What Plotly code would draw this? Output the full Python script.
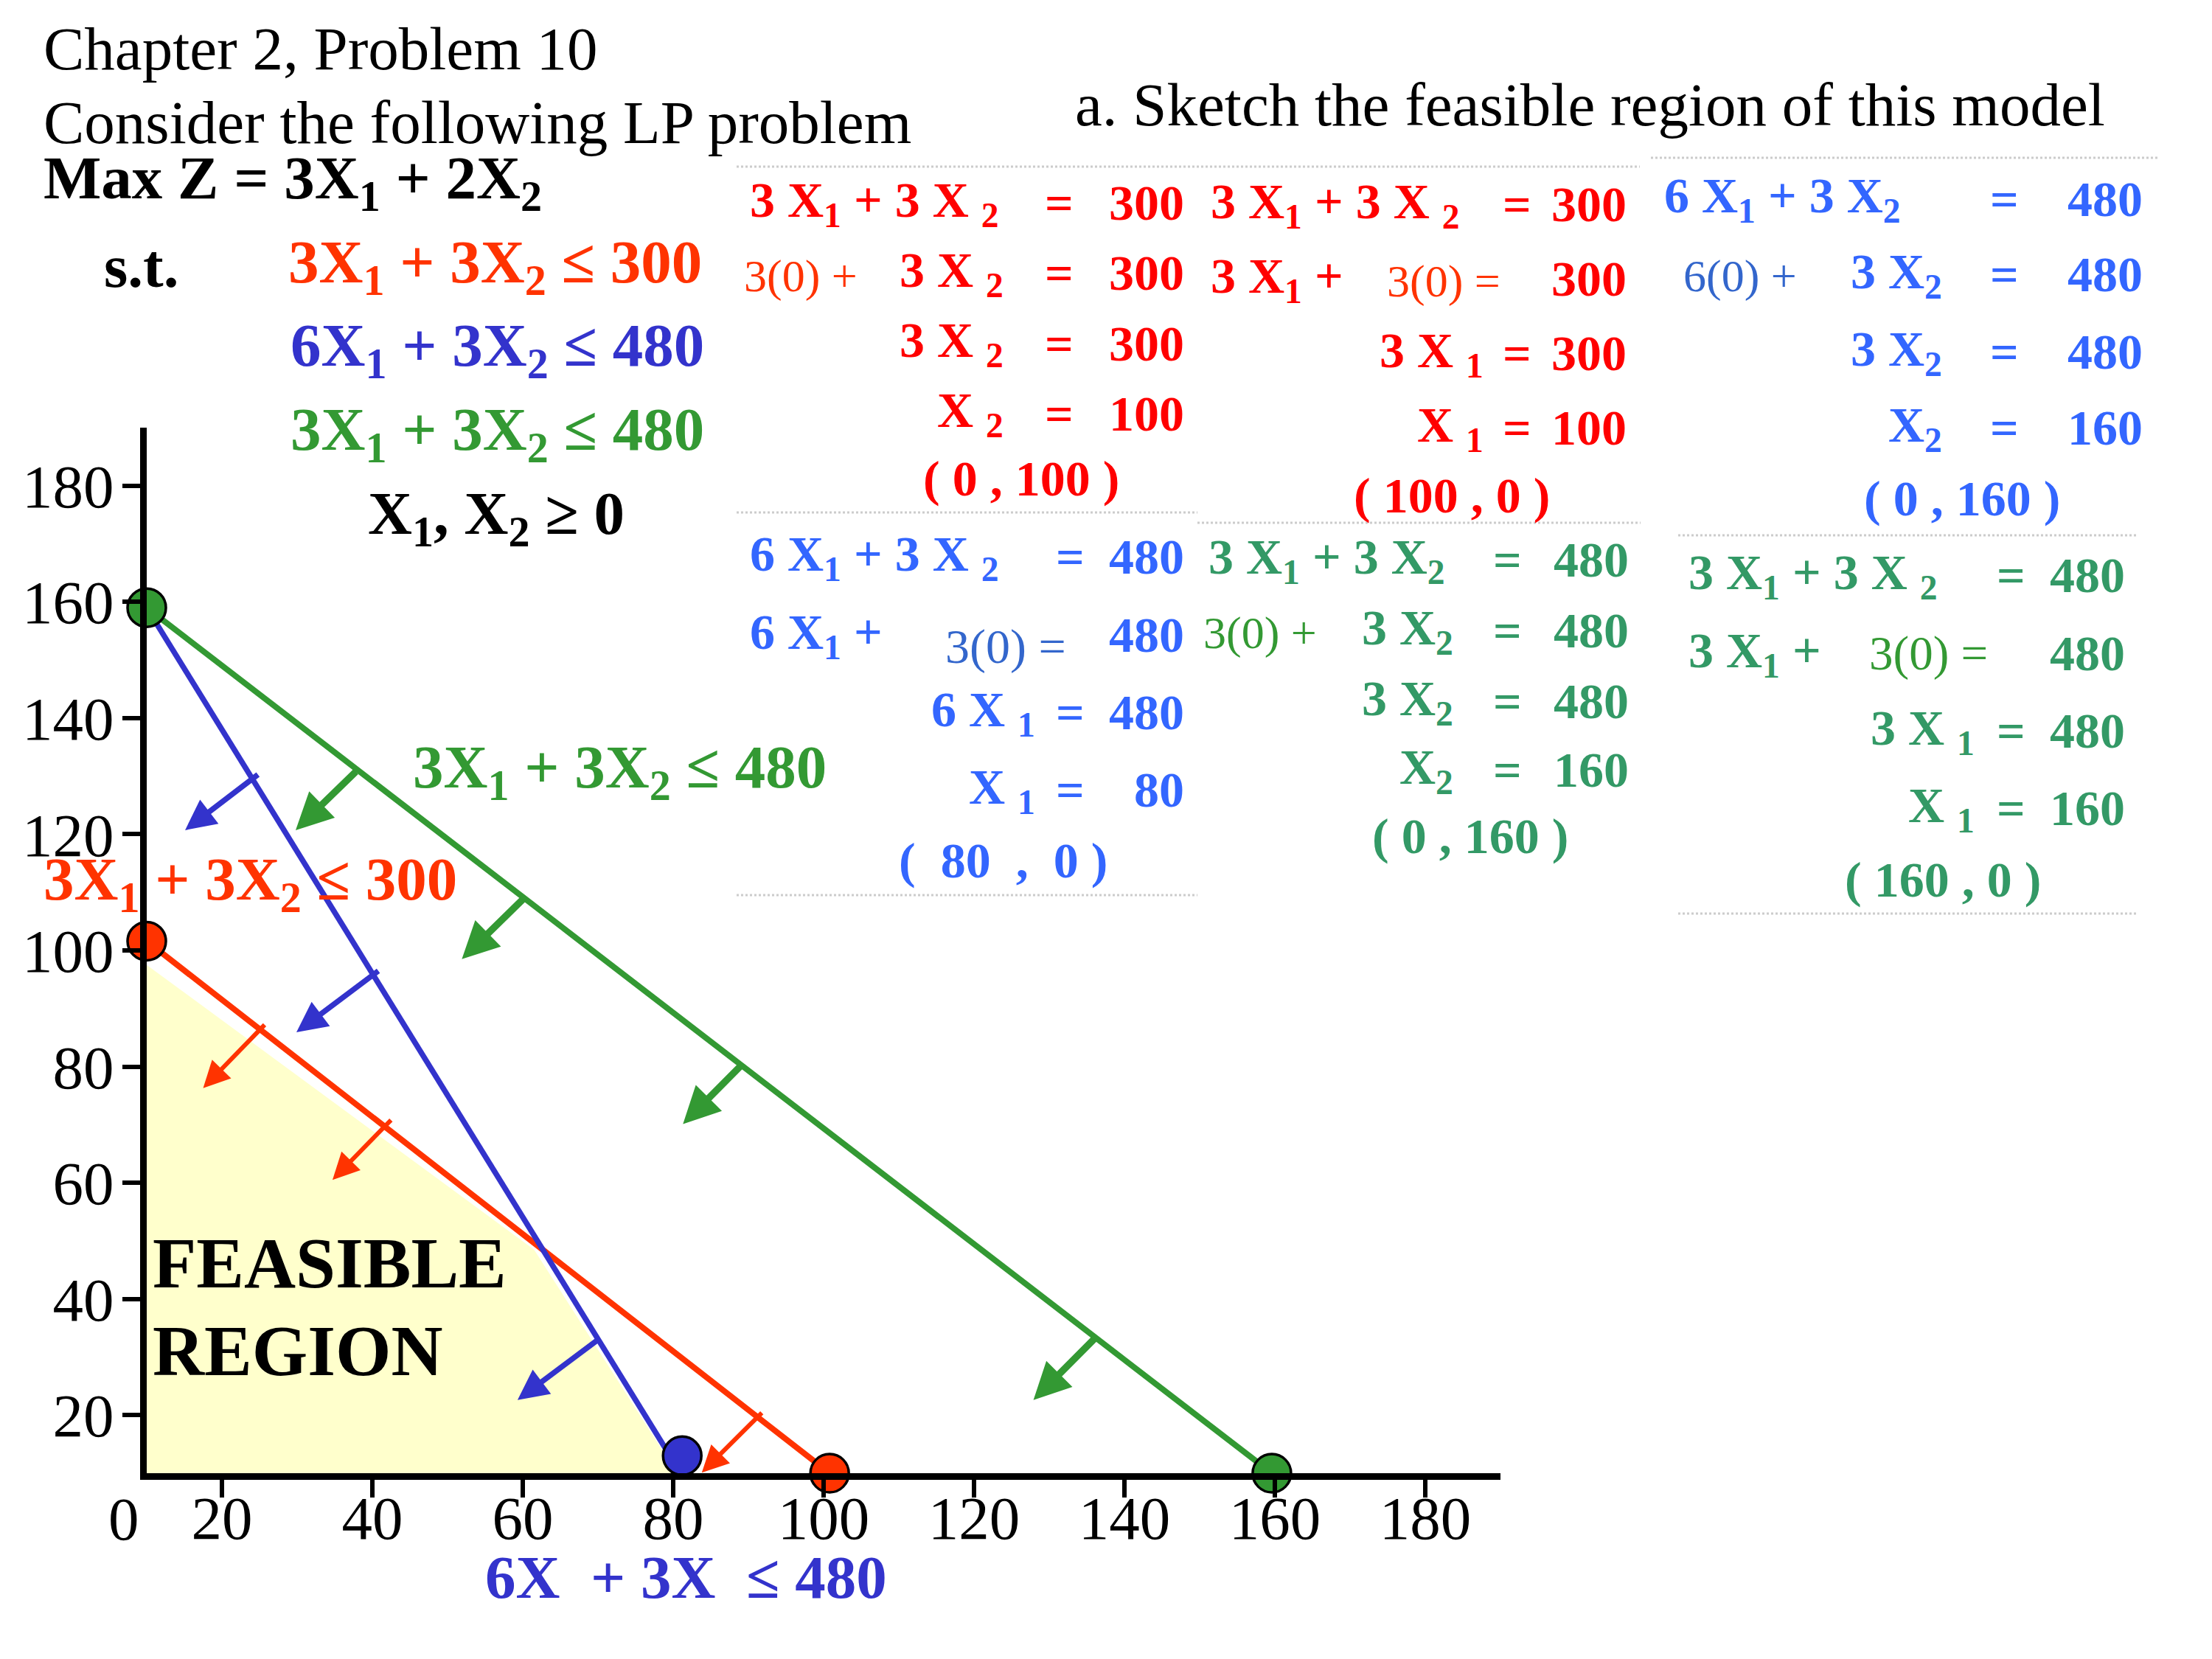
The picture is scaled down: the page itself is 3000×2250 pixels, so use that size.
import plotly.graph_objects as go

# ---------------- data ----------------
x_ticks = [20, 40, 60, 80, 100, 120, 140, 160, 180]
y_ticks = [20, 40, 60, 80, 100, 120, 140, 160, 180]

# constraint lines as drawn (axes cross at about 10, 10 in the picture)
green_x = [10, 159.6]
green_y = [159, 10]
blue_x = [10, 81]
blue_y = [159, 10]
red_x = [10, 100.8]
red_y = [101.6, 10]

# corner-point markers
green_pts_x = [10, 159.6]
green_pts_y = [159, 10]
red_pts_x = [10, 100.8]
red_pts_y = [101.6, 10]
blue_pts_x = [81.2]
blue_pts_y = [13]

# shaded feasible region outline
feasible_x = [10, 10, 61.5, 80.5, 10]
feasible_y = [10, 97.5, 48.5, 10, 10]

# direction arrows: (base on line x, base y, tip x, tip y)
green_arrows = [(37.1, 129.9, 29.8, 120.7), (59.3, 107.9, 51.9, 98.5),
                (88.5, 79.5, 81.3, 70.1), (135.6, 32.6, 127.9, 22.6)]
blue_arrows = [(24.0, 129.5, 15.1, 120.7), (40.0, 95.7, 29.9, 85.9),
               (69.4, 32.4, 59.3, 22.6)]
red_arrows = [(25.0, 86.3, 17.5, 76.3), (41.8, 69.9, 34.7, 60.5),
              (91.1, 19.5, 83.8, 10.1)]

# ---------------- styles ----------------
SERIF = "Liberation Serif"
RED = "#FF3300"
BLUE = "#3333CC"
GREEN = "#339933"
FILL = "#FFFFCC"
EQ_RED = "#FF0000"
EQ_ORANGE = "#FF3300"
EQ_BLUE = "#3366FF"
EQ_BLUE_DARK = "#3366CC"
EQ_TEAL = "#339966"
EQ_GREEN = "#339933"

W_PX, H_PX = 3000, 2250
OFF = 8  # page offset of the figure inside the browser page
L, T, R_END, B_END = 199, 580, 2035, 1998   # plot area on the page
PW, PH = R_END - L, B_END - T
XR = [10, 190]
YR = [10, 190]
SX = PW / (XR[1] - XR[0])
SY = PH / (YR[1] - YR[0])


def px(x):
    return (x - L) / PW


def py(y):
    return (B_END - y) / PH


annotations = []


def txt(s, x, y, size, color="black", bold=False, anchor="left"):
    if bold:
        s = "<b>" + s + "</b>"
    annotations.append(dict(text=s, x=px(x), y=py(y), xref="paper", yref="paper",
                            xanchor=anchor, yanchor="middle", showarrow=False,
                            font=dict(family=SERIF, size=size, color=color)))


# ---------------- figure ----------------
fig = go.Figure()

fig.add_trace(go.Scatter(x=feasible_x, y=feasible_y, mode="lines", fill="toself",
                         fillcolor=FILL, line=dict(width=0, color=FILL),
                         hoverinfo="skip"))
fig.add_trace(go.Scatter(x=green_x, y=green_y, mode="lines",
                         line=dict(color=GREEN, width=8)))
fig.add_trace(go.Scatter(x=red_x, y=red_y, mode="lines",
                         line=dict(color=RED, width=8)))
fig.add_trace(go.Scatter(x=blue_x, y=blue_y, mode="lines",
                         line=dict(color=BLUE, width=7.5)))

for xs, ys, c in [(green_pts_x, green_pts_y, GREEN), (red_pts_x, red_pts_y, RED),
                  (blue_pts_x, blue_pts_y, BLUE)]:
    fig.add_trace(go.Scatter(x=xs, y=ys, mode="markers", cliponaxis=False,
                             marker=dict(color=c, size=52,
                                         line=dict(color="black", width=3.5))))

# direction arrows
for arrows, col, aw, asz in [(green_arrows, GREEN, 9.5, 1.05), (blue_arrows, BLUE, 7.5, 1.1),
                             (red_arrows, RED, 6, 1.2)]:
    for bx, by, tx, ty in arrows:
        dxp = (tx - bx) * SX
        dyp = (ty - by) * SY
        lp = (dxp ** 2 + dyp ** 2) ** 0.5
        ext = 12.0 / lp
        ax_ = bx - (tx - bx) * ext
        ay_ = by - (ty - by) * ext
        annotations.append(dict(x=tx, y=ty, ax=ax_, ay=ay_, xref="x", yref="y",
                                axref="x", ayref="y", text="", showarrow=True,
                                arrowhead=2, arrowsize=asz, arrowwidth=aw,
                                arrowcolor=col, standoff=0))

# ---------------- text: header and model ----------------
txt("Chapter 2, Problem 10", 57, 66, 83)
txt("Consider the following LP problem", 57, 166, 83)
txt("a. Sketch the feasible region of this model", 1456, 142, 83)
txt("Max Z = 3X<sub>1</sub> + 2X<sub>2</sub>", 57, 247, 83, bold=True)
txt("s.t.", 139, 361, 83, bold=True)
txt("3X<sub>1</sub> + 3X<sub>2</sub> ≤ 300", 389, 361, 83, RED, True)
txt("6X<sub>1</sub> + 3X<sub>2</sub> ≤ 480", 392, 474, 83, BLUE, True)
txt("3X<sub>1</sub> + 3X<sub>2</sub> ≤ 480", 392, 588, 83, GREEN, True)
txt("X<sub>1</sub>, X<sub>2</sub> ≥ 0", 497, 702, 83, bold=True)

# labels on the graph
txt("3X<sub>1</sub> + 3X<sub>2</sub> ≤ 480", 558, 1046, 83, GREEN, True)
txt("3X<sub>1</sub> + 3X<sub>2</sub> ≤ 300", 57, 1198, 83, RED, True)
txt("6X\u00a0\u00a0+ 3X\u00a0\u00a0≤ 480", 656, 2139, 83, BLUE, True)
txt("FEASIBLE", 205, 1713, 97, bold=True)
txt("REGION", 205, 1832, 97, bold=True)
txt("0", 168, 2060, 83, anchor="center")

# ---------------- text: worked intercepts ----------------
EQ = 68
EQS = 62
NB = "\u00a0"
eq_pieces = [
    # block 1 (red)
    ("3 X<sub>1</sub> + 3 X" + NB + "<sub>2</sub>", 1015, 275, "left", EQ_RED, EQ, True),
    ("=", 1436, 275, "center", EQ_RED, EQ, True),
    ("300", 1608, 275, "right", EQ_RED, EQ, True),
    ("3(0) +", 1007, 375, "left", EQ_ORANGE, EQS, False),
    ("3 X" + NB + "<sub>2</sub>", 1363, 370, "right", EQ_RED, EQ, True),
    ("=", 1436, 370, "center", EQ_RED, EQ, True),
    ("300", 1608, 370, "right", EQ_RED, EQ, True),
    ("3 X" + NB + "<sub>2</sub>", 1363, 466, "right", EQ_RED, EQ, True),
    ("=", 1436, 466, "center", EQ_RED, EQ, True),
    ("300", 1608, 466, "right", EQ_RED, EQ, True),
    ("X" + NB + "<sub>2</sub>", 1363, 561, "right", EQ_RED, EQ, True),
    ("=", 1436, 561, "center", EQ_RED, EQ, True),
    ("100", 1608, 561, "right", EQ_RED, EQ, True),
    ("( 0 , 100 )", 1385, 649, "center", EQ_RED, EQ, True),
    # block 2 (red)
    ("3 X<sub>1</sub> + 3 X" + NB + "<sub>2</sub>", 1640, 277, "left", EQ_RED, EQ, True),
    ("=", 2057, 277, "center", EQ_RED, EQ, True),
    ("300", 2208, 277, "right", EQ_RED, EQ, True),
    ("3 X<sub>1</sub> +", 1640, 378, "left", EQ_RED, EQ, True),
    ("3(0) =", 1879, 381, "left", EQ_ORANGE, EQS, False),
    ("300", 2208, 378, "right", EQ_RED, EQ, True),
    ("3 X" + NB + "<sub>1</sub>", 2014, 479, "right", EQ_RED, EQ, True),
    ("=", 2057, 479, "center", EQ_RED, EQ, True),
    ("300", 2208, 479, "right", EQ_RED, EQ, True),
    ("X" + NB + "<sub>1</sub>", 2014, 580, "right", EQ_RED, EQ, True),
    ("=", 2057, 580, "center", EQ_RED, EQ, True),
    ("100", 2208, 580, "right", EQ_RED, EQ, True),
    ("( 100 , 0 )", 1969, 672, "center", EQ_RED, EQ, True),
    # block 3 (blue, top right)
    ("6 X<sub>1</sub> + 3 X<sub>2</sub>", 2255, 270, "left", EQ_BLUE, EQ, True),
    ("=", 2718, 270, "center", EQ_BLUE, EQ, True),
    ("480", 2908, 270, "right", EQ_BLUE, EQ, True),
    ("6(0) +", 2281, 375, "left", EQ_BLUE_DARK, EQS, False),
    ("3 X<sub>2</sub>", 2636, 372, "right", EQ_BLUE, EQ, True),
    ("=", 2718, 372, "center", EQ_BLUE, EQ, True),
    ("480", 2908, 372, "right", EQ_BLUE, EQ, True),
    ("3 X<sub>2</sub>", 2636, 477, "right", EQ_BLUE, EQ, True),
    ("=", 2718, 477, "center", EQ_BLUE, EQ, True),
    ("480", 2908, 477, "right", EQ_BLUE, EQ, True),
    ("X<sub>2</sub>", 2636, 580, "right", EQ_BLUE, EQ, True),
    ("=", 2718, 580, "center", EQ_BLUE, EQ, True),
    ("160", 2908, 580, "right", EQ_BLUE, EQ, True),
    ("( 0 , 160 )", 2661, 676, "center", EQ_BLUE, EQ, True),
    # block 4 (blue, lower left)
    ("6 X<sub>1</sub> + 3 X" + NB + "<sub>2</sub>", 1015, 755, "left", EQ_BLUE, EQ, True),
    ("=", 1451, 755, "center", EQ_BLUE, EQ, True),
    ("480", 1608, 755, "right", EQ_BLUE, EQ, True),
    ("6 X<sub>1</sub> +", 1015, 861, "left", EQ_BLUE, EQ, True),
    ("3(0) =", 1280, 877, "left", EQ_BLUE_DARK, 66, False),
    ("480", 1608, 861, "right", EQ_BLUE, EQ, True),
    ("6 X" + NB + "<sub>1</sub>", 1406, 966, "right", EQ_BLUE, EQ, True),
    ("=", 1451, 966, "center", EQ_BLUE, EQ, True),
    ("480", 1608, 966, "right", EQ_BLUE, EQ, True),
    ("X" + NB + "<sub>1</sub>", 1406, 1071, "right", EQ_BLUE, EQ, True),
    ("=", 1451, 1071, "center", EQ_BLUE, EQ, True),
    ("80", 1608, 1071, "right", EQ_BLUE, EQ, True),
    ("(" + NB + " 80 " + NB + ", " + NB + "0 )", 1360, 1167, "center", EQ_BLUE, EQ, True),
    # block 5 (green, middle)
    ("3 X<sub>1</sub> + 3 X<sub>2</sub>", 1637, 759, "left", EQ_TEAL, EQ, True),
    ("=", 2044, 759, "center", EQ_TEAL, EQ, True),
    ("480", 2211, 759, "right", EQ_TEAL, EQ, True),
    ("3(0) +", 1630, 858, "left", EQ_GREEN, EQS, False),
    ("3 X<sub>2</sub>", 1973, 855, "right", EQ_TEAL, EQ, True),
    ("=", 2044, 855, "center", EQ_TEAL, EQ, True),
    ("480", 2211, 855, "right", EQ_TEAL, EQ, True),
    ("3 X<sub>2</sub>", 1973, 951, "right", EQ_TEAL, EQ, True),
    ("=", 2044, 951, "center", EQ_TEAL, EQ, True),
    ("480", 2211, 951, "right", EQ_TEAL, EQ, True),
    ("X<sub>2</sub>", 1973, 1044, "right", EQ_TEAL, EQ, True),
    ("=", 2044, 1044, "center", EQ_TEAL, EQ, True),
    ("160", 2211, 1044, "right", EQ_TEAL, EQ, True),
    ("( 0 , 160 )", 1994, 1134, "center", EQ_TEAL, EQ, True),
    # block 6 (green, right)
    ("3 X<sub>1</sub> + 3 X" + NB + "<sub>2</sub>", 2288, 780, "left", EQ_TEAL, EQ, True),
    ("=", 2727, 780, "center", EQ_TEAL, EQ, True),
    ("480", 2884, 780, "right", EQ_TEAL, EQ, True),
    ("3 X<sub>1</sub> +", 2288, 886, "left", EQ_TEAL, EQ, True),
    ("3(0) =", 2533, 886, "left", EQ_GREEN, 65, False),
    ("480", 2884, 886, "right", EQ_TEAL, EQ, True),
    ("3 X" + NB + "<sub>1</sub>", 2680, 991, "right", EQ_TEAL, EQ, True),
    ("=", 2727, 991, "center", EQ_TEAL, EQ, True),
    ("480", 2884, 991, "right", EQ_TEAL, EQ, True),
    ("X" + NB + "<sub>1</sub>", 2680, 1096, "right", EQ_TEAL, EQ, True),
    ("=", 2727, 1096, "center", EQ_TEAL, EQ, True),
    ("160", 2884, 1096, "right", EQ_TEAL, EQ, True),
    ("( 160 , 0 )", 2635, 1193, "center", EQ_TEAL, EQ, True),
]
for s, x, y, anc, col, size, bold in eq_pieces:
    txt(s, x, y, size, col, bold, anc)

# faint dotted separators of the worked-example boxes
seps = [(999, 2224, 226), (2239, 2926, 214), (999, 1624, 695), (1624, 2225, 709),
        (2276, 2899, 726), (999, 1624, 1214), (2276, 2899, 1239)]
shapes = []
for x0, x1, yy in seps:
    shapes.append(dict(type="line", xref="paper", yref="paper", x0=px(x0), x1=px(x1),
                       y0=py(yy), y1=py(yy),
                       line=dict(color="#CCCCCC", width=3, dash="dot")))

axis_common = dict(showline=True, linewidth=9, linecolor="black", ticks="outside",
                   ticklen=24, tickwidth=6, tickcolor="black", showgrid=False,
                   zeroline=False, tickfont=dict(family=SERIF, size=83, color="black"))

fig.update_layout(
    width=W_PX, height=H_PX,
    margin=dict(l=L - OFF, r=W_PX - (R_END - OFF), t=T - OFF, b=H_PX - (B_END - OFF), pad=0),
    paper_bgcolor="white", plot_bgcolor="white",
    showlegend=False,
    xaxis=dict(range=XR, tickmode="array", tickvals=x_ticks,
               ticktext=[str(v) for v in x_ticks], ticklabelstandoff=-44, **axis_common),
    yaxis=dict(range=YR, tickmode="array", tickvals=y_ticks,
               ticktext=[str(v) for v in y_ticks], ticklabelstandoff=-5, **axis_common),
    annotations=annotations,
    shapes=shapes,
)

fig.write_html("out.html")
